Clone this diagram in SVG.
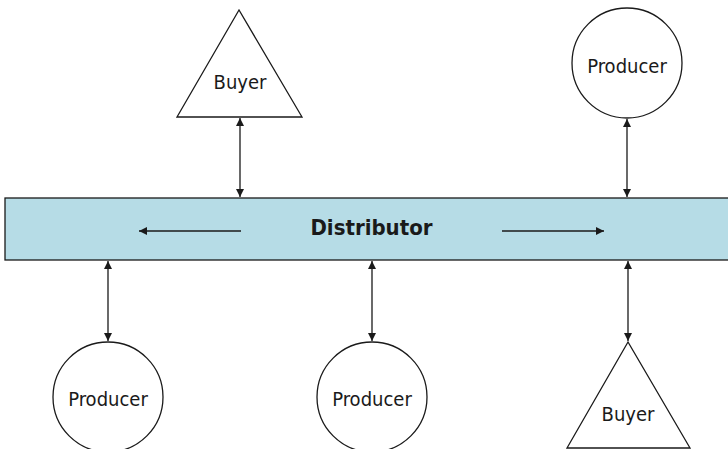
<svg xmlns="http://www.w3.org/2000/svg" width="728" height="449" viewBox="0 0 728 449">
<style>
.shape{fill:#fff;stroke:#1a1a1a;stroke-width:1.3}
.lbl{font-family:"DejaVu Sans Condensed","DejaVu Sans","Liberation Sans",sans-serif;font-stretch:condensed;font-size:20px;fill:#1a1a1a;text-anchor:middle}
.conn{stroke:#1a1a1a;stroke-width:1.3;fill:none}
</style>
<defs>
<marker id="ah" viewBox="0 0 10 10" refX="10" refY="5" markerWidth="8" markerHeight="10" markerUnits="userSpaceOnUse" orient="auto-start-reverse">
<path d="M0,0 L10,5 L0,10 Z" fill="#1a1a1a"/>
</marker>
</defs>
<rect width="728" height="449" fill="#fff"/>
<g id="distributor">
<rect x="5" y="198" width="730" height="62" fill="#b6dce6" stroke="#1a1a1a" stroke-width="1.3"/>
<text x="371.5" y="235" font-family="'DejaVu Sans Condensed','DejaVu Sans','Liberation Sans',sans-serif" font-stretch="condensed" font-size="22" font-weight="bold" fill="#1a1a1a" text-anchor="middle">Distributor</text>
</g>
<g id="buyer-top">
<polygon class="shape" points="239,10 177,117 302,117"/>
<text class="lbl" x="240" y="89">Buyer</text>
</g>
<g id="producer-top">
<circle class="shape" cx="627" cy="63" r="55"/>
<text class="lbl" x="627" y="73">Producer</text>
</g>
<g id="producer-left">
<circle class="shape" cx="108" cy="397" r="55"/>
<text class="lbl" x="108" y="406">Producer</text>
</g>
<g id="producer-mid">
<circle class="shape" cx="372" cy="397" r="55"/>
<text class="lbl" x="372" y="406">Producer</text>
</g>
<g id="buyer-bottom">
<polygon class="shape" points="628,342 567,448 690,448"/>
<text class="lbl" x="628" y="421">Buyer</text>
</g>
<g id="connectors">
<line class="conn" x1="240" y1="118" x2="240" y2="197" marker-start="url(#ah)" marker-end="url(#ah)"/>
<line class="conn" x1="627" y1="119" x2="627" y2="197" marker-start="url(#ah)" marker-end="url(#ah)"/>
<line class="conn" x1="108" y1="261" x2="108" y2="341" marker-start="url(#ah)" marker-end="url(#ah)"/>
<line class="conn" x1="372" y1="261" x2="372" y2="341" marker-start="url(#ah)" marker-end="url(#ah)"/>
<line class="conn" x1="628" y1="261" x2="628" y2="341" marker-start="url(#ah)" marker-end="url(#ah)"/>
<line class="conn" x1="241" y1="231" x2="139" y2="231" marker-end="url(#ah)"/>
<line class="conn" x1="502" y1="231" x2="604" y2="231" marker-end="url(#ah)"/>
</g>
</svg>
